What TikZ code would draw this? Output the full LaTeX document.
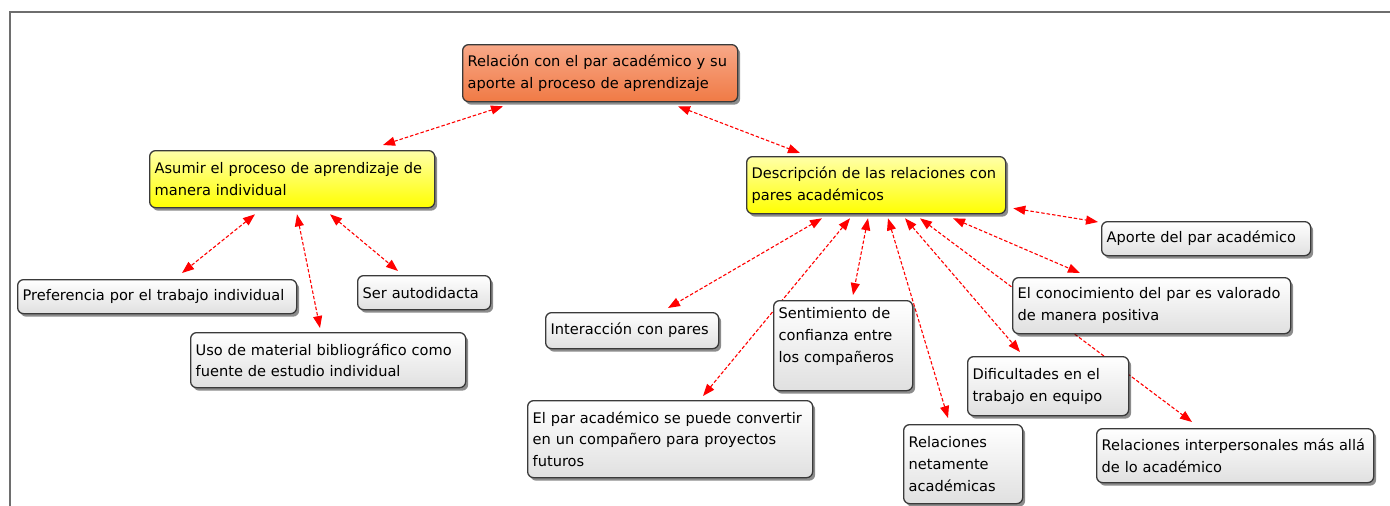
\documentclass[tikz,border=0pt]{standalone}
\usepackage{fontspec}
\setmainfont{DejaVu Sans}
\usetikzlibrary{arrows.meta,shadows,backgrounds}
\definecolor{boxline}{HTML}{3A3A3A}
\definecolor{grisclaro}{HTML}{E0E0E0}
\definecolor{amarillo}{HTML}{FFFF00}
\definecolor{amarilloclaro}{HTML}{FFFFA8}
\definecolor{naranja}{HTML}{F07A45}
\definecolor{naranjaclaro}{HTML}{F8A888}
\definecolor{marco}{HTML}{6E6E6E}
\tikzset{
	concept/.style={draw=boxline,line width=1.3pt,rounded corners=6pt,anchor=north west,align=left,
		inner xsep=5pt,inner ysep=0pt,text=black,font=\fontsize{14.6}{21.7}\selectfont,
		top color=white,bottom color=grisclaro,
		drop shadow={shadow xshift=2.5pt,shadow yshift=-3pt,fill=black,opacity=.45}},
	tema/.style={concept,top color=amarilloclaro,bottom color=amarillo},
	central/.style={concept,top color=naranjaclaro,bottom color=naranja},
	link/.style={red,line width=1.1pt,dash pattern=on 3.5pt off 2pt,>={Triangle[length=12pt,width=9pt]},<->}
}
\begin{document}
\begin{tikzpicture}[x=1pt,y=-1pt]
		\def\conceptbox[#1](#2,#3,#4,#5,#6)#7{\node[#1,text width=#5pt,minimum height=#6pt](#2)at(#3,#4){#7};}%
		\useasboundingbox(0,0)rectangle(1390,506);

		\conceptbox[central](root,462,44,265,57){Relación con el par académico y su\\aporte al proceso de aprendizaje}
		\conceptbox[tema](asumir,149,150,275,57){Asumir el proceso de aprendizaje de\\manera individual}
		\conceptbox[tema](desc,746,156,249,57){Descripción de las relaciones con\\pares académicos}
		\conceptbox[concept](pref,17,279,269,34){Preferencia por el trabajo individual}
		\conceptbox[concept](ser,357,275,123,34){Ser autodidacta}
		\conceptbox[concept](uso,190,332,265,55){Uso de material bibliográfico como\\fuente de estudio individual}
		\conceptbox[concept](aporte,1101,221,199,34){Aporte del par académico}
		\conceptbox[concept](conoc,1012,277,268,56){El conocimiento del par es valorado\\de manera positiva}
		\conceptbox[concept](dific,967,356,151,59){Dificultades en el\\trabajo en equipo}
		\conceptbox[concept](interp,1096,428,267,54){Relaciones interpersonales más allá\\de lo académico}
		\conceptbox[concept](netam,903,424,109,79){Relaciones\\netamente\\académicas}
		\conceptbox[concept](inter,545,312,163,36){Interacción con pares}
		\conceptbox[concept](sent,773,300,129,90){Sentimiento de\\confianza entre\\los compañeros\\\mbox{}}
		\conceptbox[concept](elpar,527,400,275,77){El par académico se puede convertir\\en un compañero para proyectos\\futuros}

		\begin{scope}[on background layer]
			\draw[marco,line width=1.4pt](10,506)|-(1390,12);
			\draw[link]([xshift=41pt,yshift=-4pt]root.south west)--([xshift=234pt,yshift=5pt]asumir.north west);
			\draw[link]([xshift=216pt,yshift=-4pt]root.south west)--([xshift=54pt,yshift=3pt]desc.north west);
			\draw[link]([xshift=106pt,yshift=-6pt]asumir.south west)--([xshift=165pt,yshift=6pt]pref.north west);
			\draw[link]([xshift=148pt,yshift=-6pt]asumir.south west)--([xshift=130pt,yshift=4pt]uso.north west);
			\draw[link]([xshift=181pt,yshift=-6pt]asumir.south west)--([xshift=41pt,yshift=4pt]ser.north west);
			\draw[link]([xshift=7pt,yshift=6pt]desc.south east)--([xshift=-3pt,yshift=-1pt]aporte.north west);
			\draw[link]([xshift=76pt,yshift=-4pt]desc.south west)--([xshift=123pt,yshift=4pt]inter.north west);
			\draw[link]([xshift=104pt,yshift=-4pt]desc.south west)--([xshift=176pt,yshift=4pt]elpar.north west);
			\draw[link]([xshift=122pt,yshift=-4pt]desc.south west)--([xshift=80pt,yshift=5pt]sent.north west);
			\draw[link]([xshift=142pt,yshift=-4pt]desc.south west)--([xshift=45pt,yshift=6pt]netam.north west);
			\draw[link]([xshift=159pt,yshift=-4pt]desc.south west)--([xshift=53pt,yshift=4pt]dific.north west);
			\draw[link]([xshift=174pt,yshift=-4pt]desc.south west)--([xshift=96pt,yshift=6pt]interp.north west);
			\draw[link]([xshift=207pt,yshift=-4pt]desc.south west)--([xshift=68pt,yshift=4pt]conoc.north west);
		\end{scope}
	\end{tikzpicture}
\end{document}
